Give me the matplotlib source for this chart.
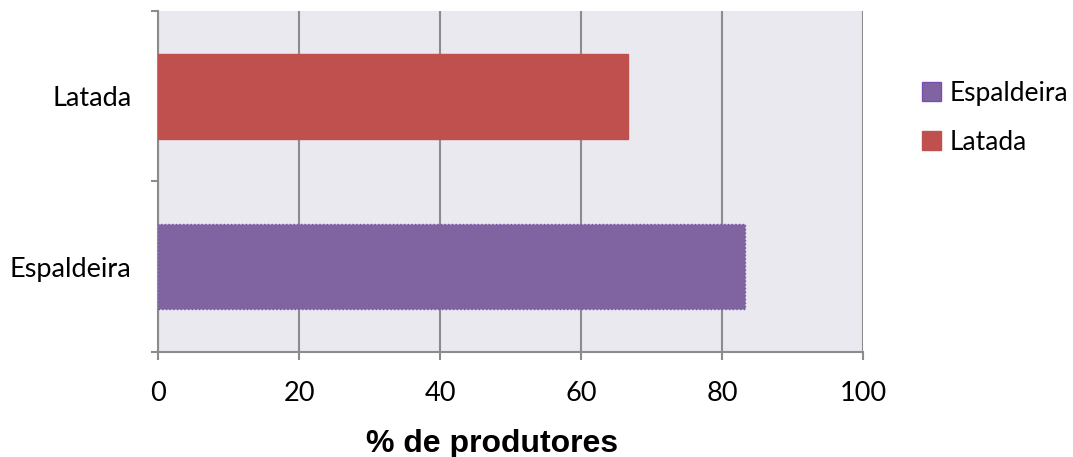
import matplotlib.pyplot as plt
from matplotlib.patches import Patch

# dados
categorias = ['Espaldeira', 'Latada']
valores = [83.3, 66.7]
cores = ['#8064A2', '#C0504D']
bordas = ['#7A4DB0', '#C0504D']
ticks_x = [0, 20, 40, 60, 80, 100]

plt.rcParams['font.family'] = ['Lato', 'DejaVu Sans']

fig = plt.figure(figsize=(10.73, 4.57), dpi=100)
ax = fig.add_axes([0.1473, 0.2298, 0.657, 0.7462])
ax.set_facecolor('#EBE9F0')

pos = list(range(len(categorias)))
for p, v, c, b in zip(pos, valores, cores, bordas):
    ax.barh(p, v, height=0.5, color=c, edgecolor=b,
            linestyle=':' if c == '#8064A2' else '-', linewidth=1, zorder=3)

ax.set_xlim(0, 100)
ax.set_ylim(-0.5, 1.5)
ax.set_xticks(ticks_x)
ax.set_xticklabels([str(t) for t in ticks_x])
ax.set_yticks(pos)
ax.set_yticklabels(categorias)
ax.set_yticks([-0.5, 0.5, 1.5], minor=True)

ax.grid(axis='x', color='#8C8C8C', linewidth=1.5, zorder=1)
ax.set_axisbelow(True)

for lado in ['top', 'right']:
    ax.spines[lado].set_visible(False)
for lado in ['left', 'bottom']:
    ax.spines[lado].set_color('#8C8C8C')
    ax.spines[lado].set_linewidth(1.5)

ax.tick_params(axis='x', length=6, width=1.5, color='#8C8C8C', pad=15, labelsize=19.5)
ax.tick_params(axis='y', which='major', length=0, pad=19, labelsize=19.5)
ax.tick_params(axis='y', which='minor', length=5, width=1.5, color='#8C8C8C')

fig.text(0.4585, 0.011, '% de produtores', family='Liberation Sans',
         fontweight='bold', fontsize=23, ha='center', va='baseline')

# legenda
handles = [Patch(facecolor=c, edgecolor=b) for c, b in zip(cores, bordas)]
fig.legend(handles, categorias, loc='upper left', bbox_to_anchor=(0.859, 0.823),
           frameon=False, fontsize=19, handlelength=0.75, handleheight=0.75,
           handletextpad=0.3, labelspacing=0.9, borderpad=0, borderaxespad=0)

fig.savefig('out.png', dpi=100)
